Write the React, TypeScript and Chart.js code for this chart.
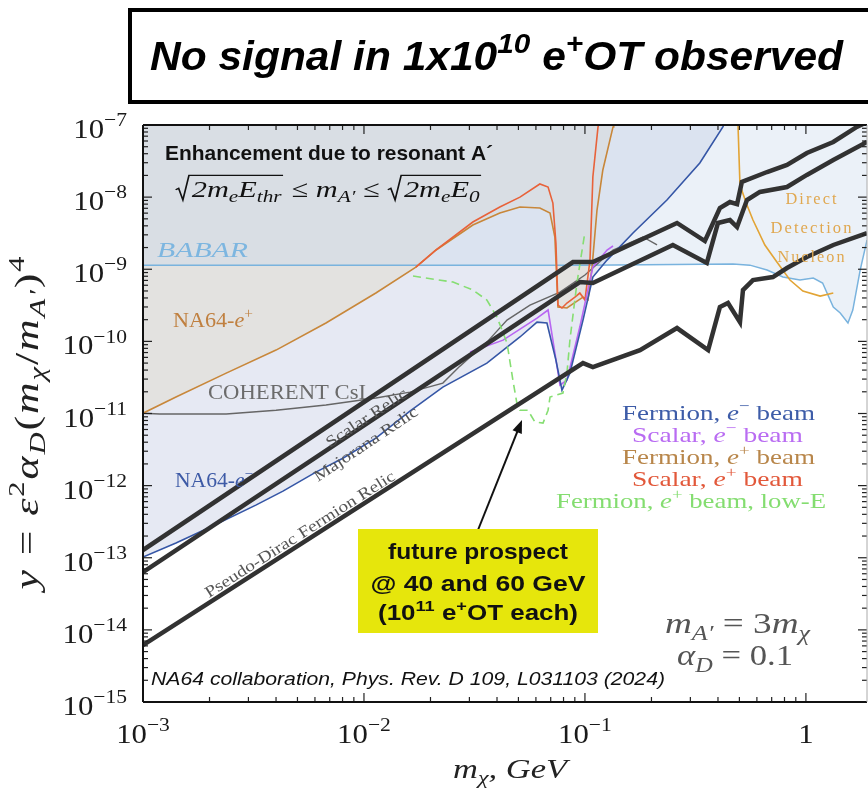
import React, { useEffect, useRef } from "react";
import { Chart, registerables } from "chart.js";
Chart.register(...registerables);

type P2 = [number, number];

const X_MIN = 1e-3;
const X_MAX = 1.89;
const Y_MIN = 1e-15;
const Y_MAX = 1e-7;

// ---- thermal relic targets ----
const scalarRelic: P2[] = [
  [1e-3, 1.28e-13], [0.0883, 1.26e-9], [0.1086, 1.26e-9], [0.261, 4.38e-9], [0.349, 2.46e-9],
  [0.408, 7.06e-9], [0.453, 8.55e-9], [0.488, 8.0e-9], [0.513, 1.62e-8], [0.667, 2.23e-8],
  [0.821, 2.79e-8], [1.01, 4.09e-8], [1.33, 5.81e-8], [1.7, 9.4e-8], [1.89, 1.1e-7],
];
const majoranaRelic: P2[] = [
  [1e-3, 6.3e-14], [0.0948, 6.64e-10], [0.1086, 6.44e-10], [0.25, 2.17e-9], [0.356, 1.22e-9],
  [0.4, 4.38e-9], [0.453, 4.81e-9], [0.488, 3.85e-9], [0.541, 9.12e-9], [0.619, 1.18e-8],
  [0.821, 1.38e-8], [1.01, 2.03e-8], [1.33, 3.27e-8], [1.89, 5.81e-8],
];
const diracRelic: P2[] = [
  [1e-3, 6.14e-15], [0.098, 5.0e-11], [0.1086, 4.41e-11], [0.1775, 7.57e-11], [0.261, 1.53e-10],
  [0.361, 7.57e-11], [0.408, 2.99e-10], [0.444, 3.4e-10], [0.503, 1.85e-10], [0.519, 5.15e-10],
  [0.576, 7.08e-10], [0.709, 7.8e-10], [0.821, 1.04e-9], [1.01, 1.48e-9], [1.33, 2.17e-9], [1.89, 3.18e-9],
];

// ---- NA64 limits ----
const fermionEminus: P2[] = [
  [1e-3, 1.02e-13], [1.41e-3, 1.6e-13], [2.01e-3, 2.65e-13], [3.24e-3, 5.37e-13], [4.3e-3, 8.4e-13],
  [6.06e-3, 1.54e-12], [8.03e-3, 2.4e-12], [0.01132, 4.56e-12], [0.01614, 1.08e-11], [0.02275, 2.32e-11],
  [0.036, 5.0e-11], [0.0508, 1.15e-10], [0.0607, 1.85e-10], [0.0673, 1.8e-10], [0.0739, 5.5e-11],
  [0.0787, 2.11e-11], [0.0855, 3.63e-11], [0.098, 1.97e-10], [0.1086, 7.8e-10], [0.1259, 1.34e-9],
  [0.165, 3.18e-9], [0.235, 9.12e-9], [0.331, 2.97e-8], [0.421, 9.4e-8], [0.434, 1.17e-7],
];
const scalarEminus: P2[] = [
  [0.0302, 7.11e-11], [0.0426, 1.04e-10], [0.0607, 2.1e-10], [0.0681, 2.72e-10], [0.0716, 1.04e-10],
  [0.0771, 2.48e-11], [0.0829, 2.9e-11], [0.0948, 1.58e-10], [0.1086, 1.07e-9], [0.1259, 1.85e-9],
  [0.134, 2.1e-9],
];
const fermionEplus: P2[] = [
  [1e-3, 1.01e-11], [1.41e-3, 1.69e-11], [2.38e-3, 3.63e-11], [4.0e-3, 7.57e-11], [6.73e-3, 1.8e-10],
  [0.01132, 4.68e-10], [0.01718, 1.07e-9], [0.0212, 1.85e-9], [0.0311, 4.1e-9], [0.0412, 6.03e-9],
  [0.0508, 7.3e-9], [0.0625, 7.06e-9], [0.0695, 6.03e-9], [0.0731, 2.8e-9], [0.0755, 2.99e-10],
  [0.0829, 2.9e-10], [0.098, 4.11e-10], [0.1032, 3.74e-10], [0.1077, 1.07e-9], [0.1134, 6.62e-9],
  [0.1205, 2.38e-8], [0.134, 9.4e-8], [0.135, 1.17e-7],
];
const scalarEplus: P2[] = [
  [0.01718, 1.07e-9], [0.0212, 1.85e-9], [0.0311, 4.52e-9], [0.0412, 7.3e-9], [0.0508, 1.0e-8],
  [0.0625, 1.52e-8], [0.0681, 1.38e-8], [0.0716, 8.28e-9], [0.0739, 2.31e-9], [0.0755, 3.18e-10],
  [0.0787, 2.9e-10], [0.0829, 3.4e-10], [0.0901, 4.11e-10], [0.0948, 4.68e-10], [0.1, 3.74e-10],
  [0.1054, 1.34e-9], [0.1086, 1.9e-8], [0.1146, 9.4e-8], [0.118, 1.3e-7],
];
const fermionEplusLowE: P2[] = [
  [0.01667, 8.05e-10], [0.0253, 6.64e-10], [0.0311, 5.15e-10], [0.036, 3.74e-10], [0.04, 2.17e-10],
  [0.0444, 9.46e-11], [0.0472, 2.9e-11], [0.0492, 1.39e-11], [0.0508, 1.11e-11], [0.0552, 1.11e-11],
  [0.0594, 7.6e-12], [0.0646, 7.36e-12], [0.0681, 1.11e-11], [0.0695, 1.69e-11], [0.0795, 1.92e-11],
  [0.0829, 3.63e-11], [0.0855, 1.04e-10], [0.092, 6.44e-10], [0.1, 3.28e-9],
];

// ---- other experiments ----
const coherentCsI: P2[] = [
  [1e-3, 1.01e-11], [1.19e-3, 9.82e-12], [2.38e-3, 9.82e-12], [4.0e-3, 1.11e-11], [6.73e-3, 1.31e-11],
  [0.01132, 1.64e-11], [0.01614, 1.98e-11], [0.02275, 2.64e-11], [0.0272, 4.54e-11], [0.036, 9.77e-11],
  [0.0444, 1.97e-10], [0.0564, 3.18e-10], [0.0771, 4.83e-10], [0.1, 8.32e-10], [0.134, 1.85e-9],
  [0.183, 2.8e-9], [0.212, 2.17e-9],
];
const babar: P2[] = [
  [1e-3, 1.14e-9], [0.1, 1.14e-9], [0.468, 1.18e-9], [0.558, 1.14e-9], [0.667, 9.75e-10], [0.787, 7.8e-10],
  [0.94, 7.08e-10], [1.08, 7.55e-10], [1.19, 6.44e-10], [1.33, 2.99e-10], [1.43, 2.47e-10],
  [1.55, 1.8e-10], [1.63, 2.72e-10], [1.76, 9.75e-10], [1.89, 2.54e-9],
];
const directDetection: P2[] = [
  [0.492, 1.17e-7], [0.497, 4.5e-8], [0.503, 1.47e-8], [0.541, 7.76e-9], [0.576, 4.81e-9],
  [0.652, 2.17e-9], [0.739, 1.26e-9], [0.847, 7.08e-10], [0.969, 4.99e-10], [1.16, 4.25e-10], [1.33, 4.68e-10],
];

const yTickExponents = [-7, -8, -9, -10, -11, -12, -13, -14, -15];
const xTickValues = [1e-3, 1e-2, 1e-1, 1];
const xTickLabels: [string, string][] = [["10", "−3"], ["10", "−2"], ["10", "−1"], ["1", ""]];

const SERIF = '"Liberation Serif", "DejaVu Serif", serif';
const SANS = '"Liberation Sans", Arial, sans-serif';

type Seg = { t?: string; it?: boolean; sup?: boolean; sub?: boolean; rad?: Seg[] };

function P(s: string): Seg[] {
  const out: Seg[] = [];
  let it = false;
  let buf = "";
  const flush = () => {
    if (buf) out.push({ t: buf, it });
    buf = "";
  };
  for (let i = 0; i < s.length; i++) {
    const c = s[i];
    if (c === "|") { flush(); it = !it; continue; }
    if ((c === "^" || c === "_") && s[i + 1] === "{") {
      flush();
      const j = s.indexOf("}", i);
      out.push({ t: s.slice(i + 2, j), it, sup: c === "^", sub: c === "_" });
      i = j;
      continue;
    }
    buf += c;
  }
  flush();
  return out;
}

function runSegs(ctx: any, segs: Seg[], x: number, y: number, size: number, fam: string, bold: boolean, itAll: boolean, draw: boolean): number {
  let cx = x;
  for (const s of segs) {
    if (s.rad) {
      const rw = size * 0.55;
      const inner = runSegs(ctx, s.rad, 0, 0, size, fam, bold, itAll, false);
      if (draw) {
        ctx.save();
        ctx.lineWidth = Math.max(1, size * 0.055);
        ctx.strokeStyle = ctx.fillStyle;
        ctx.beginPath();
        ctx.moveTo(cx + size * 0.02, y - size * 0.3);
        ctx.lineTo(cx + size * 0.12, y - size * 0.36);
        ctx.lineTo(cx + size * 0.26, y + size * 0.12);
        ctx.lineTo(cx + size * 0.46, y - size * 0.9);
        ctx.lineTo(cx + rw + inner + size * 0.05, y - size * 0.9);
        ctx.stroke();
        ctx.restore();
        runSegs(ctx, s.rad, cx + rw, y, size, fam, bold, itAll, true);
      }
      cx += rw + inner + size * 0.08;
      continue;
    }
    const sz = s.sup || s.sub ? size * 0.7 : size;
    const dy = s.sup ? -size * 0.42 : s.sub ? size * 0.22 : 0;
    const it = itAll || !!s.it;
    ctx.font = `${it ? "italic " : ""}${bold ? "bold " : ""}${sz}px ${fam}`;
    if (draw) ctx.fillText(s.t, cx, y + dy);
    cx += ctx.measureText(s.t || "").width;
  }
  return cx - x;
}

function rich(ctx: any, segs: Seg[], o: any) {
  ctx.save();
  ctx.fillStyle = o.color || "#111";
  ctx.textBaseline = "alphabetic";
  ctx.textAlign = "left";
  if (o.ls) ctx.letterSpacing = o.ls;
  const fam = o.fam || SERIF;
  const bold = !!o.bold;
  const itAll = !!o.italic;
  ctx.translate(o.x, o.y);
  if (o.rot) ctx.rotate(o.rot);
  const w = runSegs(ctx, segs, 0, 0, o.size, fam, bold, itAll, false);
  let sx = o.sx || 1;
  if (o.width) sx = o.width / w;
  ctx.scale(sx, 1);
  const start = o.align === "center" ? -w / 2 : o.align === "right" ? -w : 0;
  runSegs(ctx, segs, start, 0, o.size, fam, bold, itAll, true);
  ctx.restore();
}

const overlayPlugin = {
  id: "overlay",
  afterDraw(chart: any) {
    const ctx = chart.ctx;
    const xs = chart.scales.x;
    const ys = chart.scales.y;
    const a = chart.chartArea;
    ctx.save();
    const seg = (x1: number, y1: number, x2: number, y2: number) => {
      ctx.beginPath();
      ctx.moveTo(x1, y1);
      ctx.lineTo(x2, y2);
      ctx.stroke();
    };
    // ticks
    ctx.strokeStyle = "#222";
    ctx.lineWidth = 1.2;
    for (let d = -3; d <= 0; d++)
      for (let m = 1; m <= 9; m++) {
        const v = m * Math.pow(10, d);
        if (v < X_MIN || v > X_MAX) continue;
        const p = xs.getPixelForValue(v);
        const L = m === 1 ? 9 : 5;
        seg(p, a.bottom, p, a.bottom - L);
        seg(p, a.top, p, a.top + L);
      }
    for (let d = -15; d <= -8; d++)
      for (let m = 1; m <= 9; m++) {
        const v = m * Math.pow(10, d);
        const p = ys.getPixelForValue(v);
        const L = m === 1 ? 9 : 5;
        seg(a.left, p, a.left + L, p);
        seg(a.right, p, a.right - L, p);
      }
    // frame
    ctx.strokeStyle = "#111";
    ctx.lineWidth = 2;
    seg(a.left, a.top, a.left, a.bottom);
    seg(a.left, a.bottom, a.right, a.bottom);
    seg(a.left, a.top, a.right, a.top);
    ctx.lineWidth = 1;
    ctx.strokeStyle = "#aaa";
    seg(a.right, a.top, a.right, a.bottom);

    // tick labels
    for (const e of yTickExponents) {
      const p = ys.getPixelForValue(Math.pow(10, e));
      rich(ctx, [{ t: "10" }, { t: "−" + -e, sup: true }], { x: 127, y: p + 13, size: 28, align: "right", color: "#1a1a1a", sx: 1.1 });
    }
    xTickValues.forEach((v, i) => {
      const p = xs.getPixelForValue(v);
      const [b, s] = xTickLabels[i];
      const segs: Seg[] = s ? [{ t: b }, { t: s, sup: true }] : [{ t: b }];
      rich(ctx, segs, { x: p, y: 743, size: 28, align: "center", color: "#1a1a1a", sx: 1.1 });
    });

    // axis titles
    rich(ctx, P("|m_{χ}, GeV"), { x: 453, y: 778, size: 28, width: 114, color: "#222" });
    rich(ctx, P("|y| = |ε|^{2}|α_{D}|(|m_{χ}|/|m_{A′}|)^{4}"), { x: 38, y: 422, size: 34, ls: "1.5px", width: 335, align: "center", rot: -Math.PI / 2, color: "#222" });

    // in-plot annotations
    rich(ctx, P("Enhancement due to resonant A´"), { x: 165, y: 160, size: 21, fam: SANS, bold: true, width: 328, color: "#111" });
    rich(ctx, [{ rad: P("|2m_{e}E_{thr}") }, { t: " ≤ " }, ...P("|m_{A′}"), { t: " ≤ " }, { rad: P("|2m_{e}E_{0}") }], { x: 175, y: 197, size: 24, width: 307, italic: true, color: "#111" });
    rich(ctx, P("|BABAR"), { x: 157, y: 257, size: 21, width: 91, color: "#7db6e0" });
    rich(ctx, P("NA64-|e|^{+}"), { x: 173, y: 327, size: 21, width: 80, color: "#c08040" });
    rich(ctx, P("COHERENT CsI"), { x: 208, y: 399, size: 21, width: 158, color: "#6b6b6b" });
    rich(ctx, P("NA64-|e|^{−}"), { x: 175, y: 487, size: 21, width: 78, color: "#3d5aa6" });
    rich(ctx, P("Scalar Relic"), { x: 330, y: 448, size: 16, width: 94, rot: -0.585, color: "#555" });
    rich(ctx, P("Majorana Relic"), { x: 318, y: 482, size: 16, width: 122, rot: -0.59, color: "#555" });
    rich(ctx, P("Pseudo-Dirac Fermion Relic"), { x: 209, y: 598, size: 16, width: 222, rot: -0.567, color: "#555" });

    rich(ctx, P("Fermion, |e|^{−} beam"), { x: 622, y: 420, size: 22, width: 193, color: "#3d5ca8" });
    rich(ctx, P("Scalar, |e|^{−} beam"), { x: 632, y: 442, size: 22, width: 171, color: "#b96cf2" });
    rich(ctx, P("Fermion, |e|^{+} beam"), { x: 622, y: 464, size: 22, width: 193, color: "#b8864a" });
    rich(ctx, P("Scalar, |e|^{+} beam"), { x: 632, y: 486, size: 22, width: 171, color: "#e2583a" });
    rich(ctx, P("Fermion, |e|^{+} beam, low-E"), { x: 556, y: 508, size: 22, width: 270, color: "#84dd70" });

    rich(ctx, P("Direct"), { x: 812, y: 204, size: 16, width: 53, align: "center", ls: "2px", color: "#e0a850" });
    rich(ctx, P("Detection"), { x: 812, y: 233, size: 16, width: 83, align: "center", ls: "2px", color: "#e0a850" });
    rich(ctx, P("Nucleon"), { x: 812, y: 262, size: 16, width: 69, align: "center", ls: "2px", color: "#e0a850" });

    rich(ctx, P("|m_{A′}| = 3|m_{χ}"), { x: 665, y: 633, size: 30, width: 145, color: "#555" });
    rich(ctx, P("|α_{D}| = 0.1"), { x: 677, y: 665, size: 30, width: 116, color: "#555" });

    rich(ctx, P("NA64 collaboration, Phys. Rev. D 109, L031103 (2024)"), { x: 151, y: 685, size: 18, fam: SANS, italic: true, width: 514, color: "#111" });

    // arrow
    ctx.strokeStyle = "#111";
    ctx.fillStyle = "#111";
    ctx.lineWidth = 2;
    const ax0 = 478, ay0 = 530, ax1 = 522, ay1 = 420;
    const ang = Math.atan2(ay1 - ay0, ax1 - ax0);
    seg(ax0, ay0, ax1 - 8 * Math.cos(ang), ay1 - 8 * Math.sin(ang));
    ctx.beginPath();
    ctx.moveTo(ax1, ay1);
    ctx.lineTo(ax1 - 13 * Math.cos(ang) + 5 * Math.sin(ang), ay1 - 13 * Math.sin(ang) - 5 * Math.cos(ang));
    ctx.lineTo(ax1 - 13 * Math.cos(ang) - 5 * Math.sin(ang), ay1 - 13 * Math.sin(ang) + 5 * Math.cos(ang));
    ctx.closePath();
    ctx.fill();

    // yellow box
    ctx.fillStyle = "#e6e60c";
    ctx.fillRect(358, 529, 240, 104);
    rich(ctx, P("future prospect"), { x: 478, y: 559, size: 22, fam: SANS, bold: true, align: "center", width: 180, color: "#111" });
    rich(ctx, P("@ 40 and 60 GeV"), { x: 478, y: 591, size: 22, fam: SANS, bold: true, align: "center", width: 215, color: "#111" });
    rich(ctx, [{ t: "(10" }, { t: "11", sup: true }, { t: " e" }, { t: "+", sup: true }, { t: "OT each)" }], { x: 478, y: 620, size: 22, fam: SANS, bold: true, align: "center", width: 200, color: "#111" });

    // title box
    ctx.fillStyle = "#fff";
    ctx.fillRect(130, 10, 800, 92);
    ctx.strokeStyle = "#000";
    ctx.lineWidth = 4;
    ctx.strokeRect(130, 10, 800, 92);
    rich(ctx, [{ t: "No signal in 1x10" }, { t: "10", sup: true }, { t: " e" }, { t: "+", sup: true }, { t: "OT observed" }], { x: 150, y: 70, size: 40, fam: SANS, bold: true, italic: true, width: 693, color: "#000" });

    ctx.restore();
  },
};

const toXY = (arr: P2[]) => arr.map(([x, y]) => ({ x, y }));
const lineDs = (arr: P2[], color: string, width: number, dash: number[] = []) => ({
  data: toXY(arr), fill: false, borderColor: color, borderWidth: width, borderDash: dash, pointRadius: 0,
});
const fillDs = (arr: P2[], color: string) => ({
  data: toXY(arr), fill: "end", backgroundColor: color, borderColor: "rgba(0,0,0,0)", borderWidth: 0, pointRadius: 0,
});

export default function App() {
  const ref = useRef<HTMLCanvasElement | null>(null);
  useEffect(() => {
    if (!ref.current) return;
    const chart = new Chart(ref.current, {
      type: "line",
      data: {
        datasets: [
          lineDs(scalarRelic, "#323232", 4.5),
          lineDs(majoranaRelic, "#323232", 4.5),
          lineDs(diracRelic, "#323232", 4.5),
          lineDs(fermionEplusLowE, "#86de72", 1.6, [8, 5]),
          lineDs(fermionEminus, "#3556a6", 1.6),
          lineDs(scalarEminus, "#b866f2", 1.6),
          lineDs(scalarEplus, "#e8623a", 1.6),
          lineDs(fermionEplus, "#c8873a", 1.6),
          lineDs(directDetection, "#e2a435", 1.6),
          lineDs(coherentCsI, "#666666", 1.4),
          lineDs(babar, "#79b3de", 1.5),
          fillDs(babar, "rgba(196,214,234,0.34)"),
          fillDs(fermionEplus, "rgba(222,210,184,0.32)"),
          fillDs(fermionEminus, "rgba(199,206,228,0.45)"),
        ] as any,
      },
      options: {
        animation: false,
        responsive: false,
        devicePixelRatio: 1,
        layout: { padding: { left: 143, right: 1, top: 125, bottom: 89 } },
        plugins: { legend: { display: false }, tooltip: { enabled: false }, filler: { propagate: false } },
        elements: { point: { radius: 0 }, line: { tension: 0 } },
        scales: {
          x: { type: "logarithmic", min: X_MIN, max: X_MAX, display: false },
          y: { type: "logarithmic", min: Y_MIN, max: Y_MAX, display: false },
        },
      } as any,
      plugins: [overlayPlugin],
    });
    return () => chart.destroy();
  }, []);
  return (
    <div style={{ position: "absolute", left: 0, top: 0, width: 868, height: 791, background: "#fff" }}>
      <canvas ref={ref} width={868} height={791} style={{ display: "block" }} />
    </div>
  );
}
